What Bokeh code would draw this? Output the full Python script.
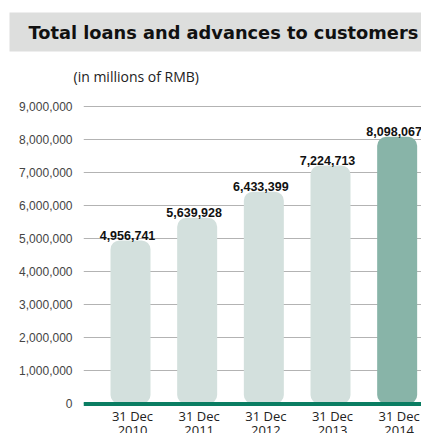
from bokeh.plotting import figure
from bokeh.layouts import column
from bokeh.models import Range1d, FixedTicker, Span, NumeralTickFormatter, ColumnDataSource
from bokeh.core.properties import value
from bokeh.embed import file_html
from bokeh.resources import INLINE

# ---- data ----
categories = ["31 Dec\n2010", "31 Dec\n2011", "31 Dec\n2012", "31 Dec\n2013", "31 Dec\n2014"]
loans = [4956741, 5639928, 6433399, 7224713, 8098067]
bar_colors = ["#d3e0dd", "#d3e0dd", "#d3e0dd", "#d3e0dd", "#88b4a8"]
y_ticks = [0, 1000000, 2000000, 3000000, 4000000, 5000000, 6000000, 7000000, 8000000, 9000000]
title_text = "Total loans and advances to customers"
subtitle_text = "(in millions of RMB)"

idx = list(range(len(categories)))
src = ColumnDataSource(dict(
    x=idx,
    top=loans,
    color=bar_colors,
    vlabel=["{:,}".format(v) for v in loans],
    cat=categories,
    base=[0] * len(loans),
))

GREEN = "#0a7d62"
W = 421
H_TOP = 92
H_MAIN = 433 - H_TOP

# ---- heading figure (title bar + unit note), pixel-like coordinates ----
pt = figure(width=W, height=H_TOP, output_backend="svg", toolbar_location=None,
            x_range=Range1d(0, W), y_range=Range1d(H_TOP, 0),
            x_axis_location=None, y_axis_location=None,
            min_border_left=0, min_border_right=0, min_border_top=0, min_border_bottom=0)
pt.frame_align = False
pt.outline_line_color = None
pt.xgrid.visible = False
pt.ygrid.visible = False

pt.quad(left=[9], right=[W + 10], top=[12], bottom=[51],
        fill_color="#dddedd", line_color=None)
pt.text(x=[28], y=[31.5], text=[title_text],
        text_font=value("DejaVu Sans"), text_font_style="bold",
        text_font_size="17.8px", text_baseline="middle", text_align="left",
        text_color="#111111")
pt.text(x=[73], y=[76], text=[subtitle_text],
        text_font=value("Open Sans"), text_font_size="14px",
        text_baseline="middle", text_align="left", text_color="#222222")

# ---- main chart ----
p = figure(width=W, height=H_MAIN, output_backend="svg", toolbar_location=None,
           x_range=Range1d(-0.705, 4.365), y_range=Range1d(-894000, 9439000),
           x_axis_location=None,
           min_border_left=83, min_border_right=0, min_border_top=0, min_border_bottom=0)
p.frame_align = False
p.outline_line_color = None

ya = p.yaxis[0]
ya.ticker = FixedTicker(ticks=y_ticks)
ya.formatter = NumeralTickFormatter(format="0,0")
ya.axis_line_color = None
ya.major_tick_line_color = None
ya.minor_tick_line_color = None
ya.major_label_standoff = 5
ya.major_label_text_font = "Liberation Sans"
ya.major_label_text_font_size = "12px"
ya.major_label_text_color = "#444444"

p.xgrid.visible = False
p.ygrid.ticker = FixedTicker(ticks=y_ticks)
p.ygrid.grid_line_color = "#b3b3b3"
p.ygrid.grid_line_width = 1

p.vbar(x="x", top="top", bottom=0, width=0.6, source=src,
       fill_color="color", line_color=None, border_radius=9)

p.add_layout(Span(location=0, dimension="width", line_color=GREEN, line_width=4))

p.text(x="x", y="top", text="vlabel", source=src,
       text_font=value("Liberation Sans"), text_font_style="bold",
       text_font_size="12.5px", text_align="center", text_baseline="alphabetic",
       x_offset=-3, y_offset=-5, text_color="#111111")

p.text(x="x", y="base", text="cat", source=src,
       text_font=value("Open Sans"), text_font_size="13px",
       text_align="center", text_baseline="top", text_line_height=0.78,
       x_offset=2, y_offset=3, text_color="#222222")

layout = column(pt, p, spacing=0)
open("out.html", "w").write(file_html(layout, INLINE))
